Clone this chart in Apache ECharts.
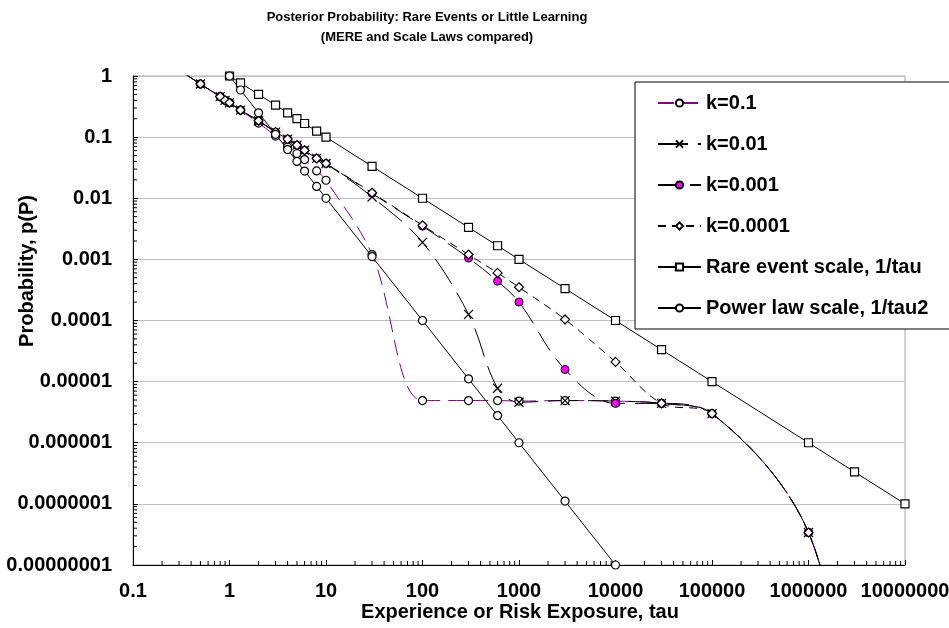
<!DOCTYPE html>
<html>
<head>
<meta charset="utf-8">
<script src="https://cdn.jsdelivr.net/npm/echarts@6/dist/echarts.min.js"></script>
<style>
  html, body { margin: 0; padding: 0; background: #fff; }
  #chart { width: 949px; height: 628px; }
</style>
</head>
<body>
<div id="chart"></div>
<script>
// Experience / exposure values shared by the MERE curves
const tau = [0.3, 0.5, 0.8, 0.9, 1, 1.3, 2, 3, 4, 5, 6, 8, 10, 30, 100, 300, 600, 1000, 3000, 10000, 30000, 100000, 1000000, 3000000];

// MERE posterior probability for each learning constant k
const pK01    = [1.25, 0.74, 0.46, 0.40, 0.365, 0.277, 0.17,  0.104, 0.069, 0.054, 0.043, 0.028, 0.0197, 0.0012, 4.9e-6, 4.9e-6, 4.9e-6, 4.8e-6, 4.9e-6, 4.8e-6, 4.4e-6, 3.0e-6, 3.4e-8, 1e-11];
const pK001   = [1.25, 0.74, 0.46, 0.40, 0.365, 0.277, 0.185, 0.121, 0.093, 0.074, 0.061, 0.045, 0.037, 0.0105, 0.0019, 1.26e-4, 7.8e-6, 4.6e-6, 4.9e-6, 4.8e-6, 4.4e-6, 3.0e-6, 3.4e-8, 1e-11];
const pK0001  = [1.25, 0.74, 0.46, 0.40, 0.365, 0.277, 0.185, 0.121, 0.093, 0.074, 0.061, 0.045, 0.037, 0.012,  0.0035, 0.00105, 4.4e-4, 2.0e-4, 1.58e-5, 4.4e-6, 4.4e-6, 3.0e-6, 3.4e-8, 1e-11];
const pK00001 = [1.25, 0.74, 0.46, 0.40, 0.365, 0.277, 0.185, 0.121, 0.093, 0.074, 0.061, 0.045, 0.037, 0.0123, 0.0036, 0.0012, 6.0e-4, 3.5e-4, 1.04e-4, 2.1e-5, 4.4e-6, 3.0e-6, 3.4e-8, 1e-11];

// Rare event scale, 1/tau
const rareTau = [1, 1.3, 2, 3, 4, 5, 6, 8, 10, 30, 100, 300, 600, 1000, 3000, 10000, 30000, 100000, 1000000, 3000000, 10000000];
const rareP   = [1, 0.77, 0.5, 0.333, 0.25, 0.2, 0.167, 0.125, 0.1, 0.0333, 0.01, 0.00333, 0.00167, 0.001, 0.000333, 0.0001, 0.0000333, 0.00001, 0.000001, 0.000000333, 0.0000001];

// Power law scale, 1/tau^2
const powerTau = [1, 1.3, 2, 3, 4, 5, 6, 8, 10, 30, 100, 300, 600, 1000, 3000, 10000];
const powerP   = [1, 0.59, 0.25, 0.111, 0.0625, 0.04, 0.0278, 0.0156, 0.01, 0.00111, 0.0001, 0.0000111, 0.00000278, 0.000001, 0.000000111, 0.00000001];

const seriesNames = ['k=0.1', 'k=0.01', 'k=0.001', 'k=0.0001', 'Rare event scale, 1/tau', 'Power law scale, 1/tau2'];

const xMin = 0.1, xMax = 10000000;
const yMin = 0.00000001, yMax = 1;

const FONT = '"Liberation Sans", Arial, Helvetica, sans-serif';

function pairs(xs, ys) { return xs.map((x, i) => [x, ys[i]]); }

function decimalLabel(v) {
  const e = Math.round(Math.log10(v));
  if (e >= 0) return String(Math.round(v));
  return (Math.pow(10, e)).toFixed(-e);
}

// 2..9 minor tick values for every decade of an axis
function minorValues(lo, hi) {
  const out = [];
  for (let e = Math.round(Math.log10(lo)); e < Math.round(Math.log10(hi)); e++) {
    for (let m = 2; m <= 9; m++) out.push(m * Math.pow(10, e));
  }
  return out;
}

const chart = echarts.init(document.getElementById('chart'), null, { renderer: 'canvas' });

const gridLeft = 133, gridTop = 76, gridRight = 44, gridBottom = 63;

const minorSeries = {
  type: 'custom',
  silent: true,
  clip: false,
  z: 1,
  data: minorValues(yMin, yMax).map(v => [0, v]).concat(minorValues(xMin, xMax).map(v => [1, v])),
  renderItem: function (params, api) {
    const kind = api.value(0);
    const v = api.value(1);
    if (kind === 0) {
      const p = api.coord([xMin, v]);
      return { type: 'line', shape: { x1: p[0], y1: p[1], x2: p[0] + 4, y2: p[1] }, style: { stroke: '#000', lineWidth: 1 } };
    }
    const p = api.coord([v, yMin]);
    return { type: 'line', shape: { x1: p[0], y1: p[1], x2: p[0], y2: p[1] - 4 }, style: { stroke: '#000', lineWidth: 1 } };
  },
  encode: { x: -1, y: -1 }
};

const openStyle = { color: '#fff', borderColor: '#000', borderWidth: 1.2 };

const option = {
  animation: false,
  backgroundColor: '#fff',
  textStyle: { fontFamily: FONT },
  title: {
    text: 'Posterior Probability: Rare Events or Little Learning\n(MERE and Scale Laws compared)',
    left: 422,
    top: 2,
    textAlign: 'center',
    textStyle: { fontSize: 13, fontWeight: 'bold', color: '#000', lineHeight: 20, fontFamily: FONT }
  },
  grid: {
    left: gridLeft, top: gridTop, right: gridRight, bottom: gridBottom,
    outerBoundsMode: 'none',
    containLabel: false,
    show: true, borderColor: '#a6a6a6', borderWidth: 1, backgroundColor: 'transparent'
  },
  legend: {
    orient: 'vertical',
    left: 635,
    top: 82,
    data: seriesNames,
    itemWidth: 43,
    itemHeight: 9,
    itemGap: 21,
    padding: [11, 40, 11, 22],
    backgroundColor: '#fff',
    borderColor: '#000',
    borderWidth: 1,
    borderRadius: 0,
    selectedMode: false,
    textStyle: { fontSize: 20, fontWeight: 'bold', color: '#000', fontFamily: FONT }
  },
  xAxis: {
    type: 'log',
    logBase: 10,
    min: xMin,
    max: xMax,
    interval: 1,
    axisLine: { lineStyle: { color: '#000', width: 1 } },
    axisTick: { inside: true, length: 5, lineStyle: { color: '#000' } },
    splitLine: { show: false },
    axisLabel: { margin: 16, fontSize: 20, fontWeight: 'bold', color: '#000', fontFamily: FONT, formatter: decimalLabel }
  },
  yAxis: {
    type: 'log',
    logBase: 10,
    min: yMin,
    max: yMax,
    interval: 1,
    axisLine: { lineStyle: { color: '#000', width: 1 } },
    axisTick: { inside: true, length: 5, lineStyle: { color: '#000' } },
    splitLine: { show: true, lineStyle: { color: '#c0c0c0', width: 1 } },
    axisLabel: { margin: 21, fontSize: 20, fontWeight: 'bold', color: '#000', fontFamily: FONT, formatter: decimalLabel }
  },
  graphic: [
    {
      type: 'text', x: 520, y: 612,
      style: { text: 'Experience or Risk Exposure, tau', font: 'bold 20px ' + FONT, fill: '#000', align: 'center', verticalAlign: 'middle' }
    },
    {
      type: 'text', x: 27, y: 271, rotation: Math.PI / 2,
      style: { text: 'Probability, p(P)', font: 'bold 20px ' + FONT, fill: '#000', align: 'center', verticalAlign: 'middle' }
    }
  ],
  series: [
    minorSeries,
    {
      name: seriesNames[0], type: 'line', data: pairs(tau, pK01), smooth: 0.35,
      symbol: 'circle', symbolSize: 8, itemStyle: openStyle,
      lineStyle: { color: '#800080', width: 1, type: [16, 8] }
    },
    {
      name: seriesNames[1], type: 'line', data: pairs(tau, pK001), smooth: 0.35,
      symbol: 'path://M0,0L10,10M10,0L0,10', symbolSize: 9,
      itemStyle: { color: '#000', borderColor: '#000', borderWidth: 1.2 },
      lineStyle: { color: '#000', width: 1, type: [30, 10] }
    },
    {
      name: seriesNames[2], type: 'line', data: pairs(tau, pK0001), smooth: 0.35,
      symbol: 'circle', symbolSize: 8,
      itemStyle: { color: '#ff00ff', borderColor: '#000', borderWidth: 1 },
      lineStyle: { color: '#000', width: 1, type: [22, 10] }
    },
    {
      name: seriesNames[3], type: 'line', data: pairs(tau, pK00001), smooth: 0.35,
      symbol: 'diamond', symbolSize: 9, itemStyle: openStyle,
      lineStyle: { color: '#000', width: 1, type: [8, 6] }
    },
    {
      name: seriesNames[4], type: 'line', data: pairs(rareTau, rareP), clip: false,
      symbol: 'rect', symbolSize: 8, itemStyle: openStyle,
      lineStyle: { color: '#000', width: 1 }
    },
    {
      name: seriesNames[5], type: 'line', data: pairs(powerTau, powerP), clip: false,
      symbol: 'circle', symbolSize: 8, itemStyle: openStyle,
      lineStyle: { color: '#000', width: 1 }
    }
  ]
};

chart.setOption(option);
</script>
</body>
</html>
